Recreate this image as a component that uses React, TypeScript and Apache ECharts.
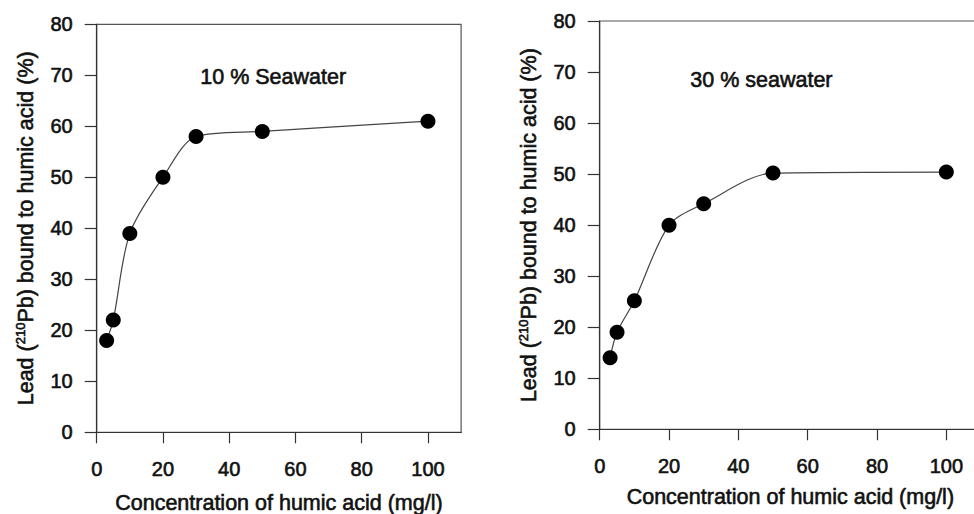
import React, { useEffect, useRef } from "react";
import * as echarts from "echarts";

const xTicks = [0, 20, 40, 60, 80, 100];
const leftX = [3, 5, 10, 20, 30, 50, 100];
const leftY = [18, 22, 39, 50, 58, 59, 61];
const rightX = [3, 5, 10, 20, 30, 50, 100];
const rightY = [14, 19, 25.2, 40, 44.2, 50.2, 50.4];
const leftTitle = "10 % Seawater";
const rightTitle = "30 % seawater";
const xName = "Concentration of humic acid (mg/l)";
const yName = "Lead ({sup|210}Pb) bound to humic acid (%)";

const FONT = "Liberation Sans, Arial, sans-serif";
const TXT = "#111";
const FS = 21.5;
const FT = 20;

export default function App() {
  const ref = useRef<HTMLDivElement>(null);
  useEffect(() => {
    if (!ref.current) return;
    const chart = echarts.init(ref.current, null, { renderer: "svg" });
    const heavy = { textBorderColor: TXT, textBorderWidth: 0.6 };
    const nameTxt = { fontSize: FS, color: TXT, fontFamily: FONT, ...heavy };
    const tickTxt = { fontSize: FT, color: TXT, fontFamily: FONT, ...heavy };
    const mkX = (gridIndex: number, gap: number) => ({
      type: "value",
      gridIndex,
      min: 0,
      max: 110,
      interval: 10,
      name: xName,
      nameLocation: "middle",
      nameGap: gap,
      nameTextStyle: { ...nameTxt },
      axisLine: { show: true, lineStyle: { color: "#333", width: 1.2 } },
      axisTick: {
        show: true,
        inside: false,
        length: 11,
        customValues: xTicks,
        lineStyle: { color: "#333", width: 1.2 },
      },
      axisLabel: { ...tickTxt, customValues: xTicks, margin: 27 },
      splitLine: { show: false },
    });
    const mkY = (gridIndex: number) => ({
      type: "value",
      gridIndex,
      min: 0,
      max: 80,
      interval: 10,
      name: yName,
      nameLocation: "middle",
      nameGap: 59,
      nameTextStyle: {
        ...nameTxt,
        lineHeight: 24,
        rich: {
          sup: { fontSize: 13, verticalAlign: "top", lineHeight: 24, color: TXT, fontFamily: FONT, ...heavy },
        },
      },
      axisLine: { show: true, lineStyle: { color: "#333", width: 1.2 } },
      axisTick: { show: true, inside: false, length: 12, lineStyle: { color: "#333", width: 1.2 } },
      axisLabel: { ...tickTxt, margin: 24 },
      splitLine: { show: false },
    });
    const mkSeries = (idx: number, xs: number[], ys: number[]) => ({
      type: "line",
      xAxisIndex: idx,
      yAxisIndex: idx,
      data: xs.map((x, i) => [x, ys[i]]),
      smooth: 0.3,
      symbol: "circle",
      symbolSize: 15,
      itemStyle: { color: "#000" },
      lineStyle: { color: "#444", width: 1.2 },
      z: 3,
    });
    chart.setOption({
      animation: false,
      backgroundColor: "#fff",
      grid: [
        {
          left: 96.7, top: 24.3, width: 364.4, height: 408,
          containLabel: false, outerBoundsMode: "none",
          show: true, borderColor: "#555", borderWidth: 1.2,
        },
        {
          left: 599.7, top: 21, width: 381.3, height: 408.3,
          containLabel: false, outerBoundsMode: "none",
          show: true, borderColor: "#555", borderWidth: 1.2,
        },
      ],
      xAxis: [mkX(0, 60), mkX(1, 57)],
      yAxis: [mkY(0), mkY(1)],
      series: [mkSeries(0, leftX, leftY), mkSeries(1, rightX, rightY)],
      graphic: [
        {
          type: "text",
          left: 200,
          top: 66,
          style: { text: leftTitle, fontSize: FS, fill: TXT, fontFamily: FONT, stroke: TXT, lineWidth: 0.6 },
        },
        {
          type: "text",
          left: 690,
          top: 69,
          style: { text: rightTitle, fontSize: FS, fill: TXT, fontFamily: FONT, stroke: TXT, lineWidth: 0.6 },
        },
      ],
    });
    return () => chart.dispose();
  }, []);
  return (
    <div
      ref={ref}
      style={{ position: "fixed", left: 0, top: 0, width: 974, height: 514 }}
    />
  );
}
